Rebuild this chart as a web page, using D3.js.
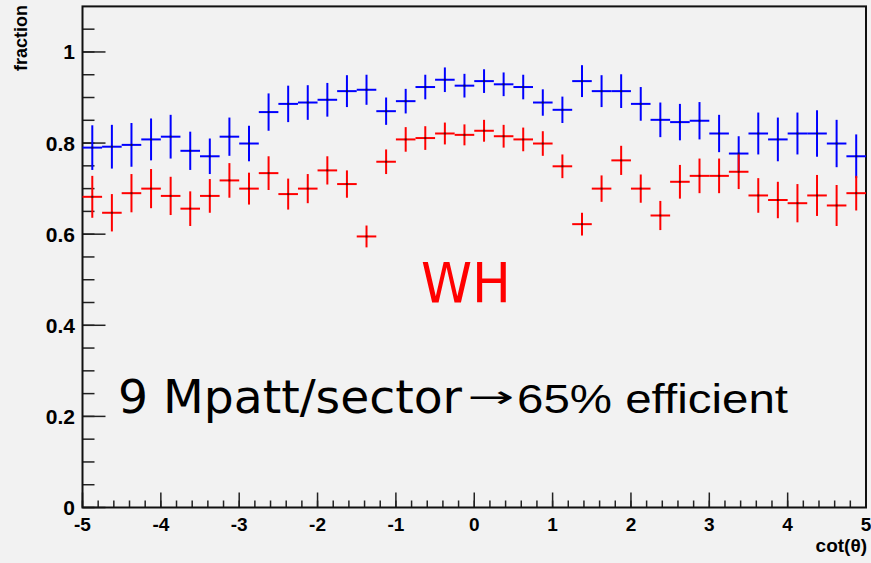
<!doctype html>
<html>
  <head>
    <script src="https://cdnjs.cloudflare.com/ajax/libs/d3/7.8.5/d3.min.js"></script>
    <style>
      body { margin: 0; background: #f2f2f2; }
    </style>
  </head>
  <body>
    <svg id="chart" width="871" height="563"></svg>
    <script>
        // 40 bins of cot(theta), width 0.25, from -5 to 5
        var binLow = -5;
        var binWidth = 0.25;

        var blueValues = [0.790, 0.792, 0.796, 0.808, 0.814, 0.783, 0.771, 0.814, 0.799, 0.868,
                          0.886, 0.889, 0.895, 0.914, 0.917, 0.870, 0.892, 0.923, 0.939, 0.926,
                          0.936, 0.929, 0.923, 0.889, 0.873, 0.936, 0.914, 0.914, 0.886, 0.851,
                          0.846, 0.849, 0.821, 0.777, 0.821, 0.808, 0.821, 0.821, 0.799, 0.771];
        var blueErrors = [0.049, 0.048, 0.048, 0.046, 0.048, 0.042, 0.039, 0.042, 0.039, 0.041,
                          0.040, 0.038, 0.037, 0.035, 0.033, 0.030, 0.027, 0.027, 0.027, 0.026,
                          0.026, 0.026, 0.027, 0.029, 0.029, 0.035, 0.035, 0.037, 0.037, 0.038,
                          0.040, 0.041, 0.041, 0.038, 0.046, 0.048, 0.046, 0.051, 0.052, 0.048];

        var redValues = [0.682, 0.647, 0.690, 0.700, 0.684, 0.656, 0.684, 0.718, 0.700, 0.734,
                         0.688, 0.700, 0.740, 0.710, 0.595, 0.759, 0.808, 0.811, 0.821, 0.818,
                         0.827, 0.815, 0.808, 0.799, 0.749, 0.622, 0.700, 0.762, 0.700, 0.641,
                         0.715, 0.728, 0.728, 0.737, 0.685, 0.675, 0.668, 0.685, 0.663, 0.690];
        var redErrors = [0.046, 0.041, 0.042, 0.043, 0.042, 0.038, 0.037, 0.038, 0.035, 0.037,
                         0.034, 0.032, 0.031, 0.030, 0.024, 0.027, 0.027, 0.026, 0.024, 0.023,
                         0.024, 0.025, 0.026, 0.027, 0.026, 0.025, 0.029, 0.032, 0.031, 0.032,
                         0.037, 0.038, 0.038, 0.038, 0.038, 0.040, 0.042, 0.045, 0.045, 0.038];

        var xTickLabels = [-5, -4, -3, -2, -1, 0, 1, 2, 3, 4, 5];
        var yTickLabels = [0, 0.2, 0.4, 0.6, 0.8, 1];

        var svg = d3.select("#chart");
        svg.append("rect").attr("width", 871).attr("height", 563).style("fill", "#f2f2f2");

        var x = d3.scaleLinear().domain([-5, 5]).range([82.5, 866]);
        var y = d3.scaleLinear().domain([0, 1.1]).range([507.5, 6.4]);

        // minor and major ticks
        var xMinor = d3.range(-5, 5.001, 0.2);
        svg.selectAll("line.xminor")
            .data(xMinor)
            .enter()
            .append("line")
                .attr("x1", d => x(d)).attr("x2", d => x(d))
                .attr("y1", y(0)).attr("y2", y(0) - 7)
                .style("stroke", "#222").style("stroke-width", 1.5);
        svg.selectAll("line.xmajor")
            .data(xTickLabels)
            .enter()
            .append("line")
                .attr("x1", d => x(d)).attr("x2", d => x(d))
                .attr("y1", y(0)).attr("y2", y(0) - 15)
                .style("stroke", "#222").style("stroke-width", 1.5);

        var yMinor = d3.range(0, 1.1, 0.05);
        svg.selectAll("line.yminor")
            .data(yMinor)
            .enter()
            .append("line")
                .attr("x1", x(-5)).attr("x2", x(-5) + 12)
                .attr("y1", d => y(d)).attr("y2", d => y(d))
                .style("stroke", "#222").style("stroke-width", 1.5);
        svg.selectAll("line.ymajor")
            .data(yTickLabels)
            .enter()
            .append("line")
                .attr("x1", x(-5)).attr("x2", x(-5) + 23)
                .attr("y1", d => y(d)).attr("y2", d => y(d))
                .style("stroke", "#222").style("stroke-width", 1.5);

        // frame
        svg.append("rect")
            .attr("x", x(-5)).attr("y", y(1.1))
            .attr("width", x(5) - x(-5)).attr("height", y(0) - y(1.1))
            .style("fill", "none").style("stroke", "#111").style("stroke-width", 2);

        // tick labels
        svg.selectAll("text.xlab")
            .data(xTickLabels)
            .enter()
            .append("text")
                .attr("x", d => x(d)).attr("y", 531)
                .attr("text-anchor", "middle")
                .style("font-family", "Liberation Sans, Arial, sans-serif")
                .style("font-weight", "bold").style("font-size", "19px")
                .text(d => d);
        svg.selectAll("text.ylab")
            .data(yTickLabels)
            .enter()
            .append("text")
                .attr("x", 75).attr("y", d => y(d) + 7.5)
                .attr("text-anchor", "end")
                .style("font-family", "Liberation Sans, Arial, sans-serif")
                .style("font-weight", "bold").style("font-size", "21px")
                .text(d => d);

        svg.append("text")
            .attr("x", 867).attr("y", 552)
            .attr("text-anchor", "end")
            .style("font-family", "Liberation Sans, Arial, sans-serif")
            .style("font-weight", "bold").style("font-size", "19px")
            .text("cot(\u03b8)");
        svg.append("text")
            .attr("transform", "translate(27,5) rotate(-90)")
            .attr("text-anchor", "end")
            .style("font-family", "Liberation Sans, Arial, sans-serif")
            .style("font-weight", "bold").style("font-size", "18px")
            .text("fraction");

        function drawSeries(values, errors, colour) {
            var g = svg.append("g");
            var bins = values.map((v, i) => ({ i: i, v: v, e: errors[i] }));
            g.selectAll("line.h")
                .data(bins)
                .enter()
                .append("line")
                    .attr("x1", d => x(binLow + d.i * binWidth))
                    .attr("x2", d => x(binLow + (d.i + 1) * binWidth))
                    .attr("y1", d => y(d.v)).attr("y2", d => y(d.v))
                    .style("stroke", colour).style("stroke-width", 2);
            g.selectAll("line.v")
                .data(bins)
                .enter()
                .append("line")
                    .attr("x1", d => x(binLow + (d.i + 0.5) * binWidth))
                    .attr("x2", d => x(binLow + (d.i + 0.5) * binWidth))
                    .attr("y1", d => y(d.v - d.e)).attr("y2", d => y(d.v + d.e))
                    .style("stroke", colour).style("stroke-width", 2);
            g.selectAll("rect.m")
                .data(bins)
                .enter()
                .append("rect")
                    .attr("x", d => x(binLow + (d.i + 0.5) * binWidth) - 1)
                    .attr("y", d => y(d.v) - 1)
                    .attr("width", 2).attr("height", 2)
                    .style("fill", "#111").style("opacity", 0.7);
        }

        drawSeries(blueValues, blueErrors, "#0000ff");
        drawSeries(redValues, redErrors, "#ff0000");

        // annotations
        svg.append("text")
            .attr("x", 421).attr("y", 302)
            .attr("textLength", 90).attr("lengthAdjust", "spacingAndGlyphs")
            .style("font-family", "Comic Sans MS, DejaVu Sans, sans-serif")
            .style("font-size", "56px").style("fill", "#ff0000")
            .text("WH");
        svg.append("text")
            .attr("x", 118).attr("y", 413)
            .attr("textLength", 344).attr("lengthAdjust", "spacingAndGlyphs")
            .style("font-family", "Comic Sans MS, DejaVu Sans, sans-serif")
            .style("font-size", "47px").style("fill", "#000")
            .text("9 Mpatt/sector");
        svg.append("text")
            .attr("x", 467).attr("y", 407)
            .attr("textLength", 47).attr("lengthAdjust", "spacingAndGlyphs")
            .style("font-family", "DejaVu Sans, sans-serif")
            .style("font-size", "30px").style("fill", "#000")
            .text("\u2192");
        svg.append("text")
            .attr("x", 517).attr("y", 413)
            .attr("textLength", 271).attr("lengthAdjust", "spacingAndGlyphs")
            .style("font-family", "Liberation Sans, Arial, sans-serif")
            .style("font-size", "40px").style("fill", "#000")
            .text("65% efficient");
    </script>
  </body>
</html>
